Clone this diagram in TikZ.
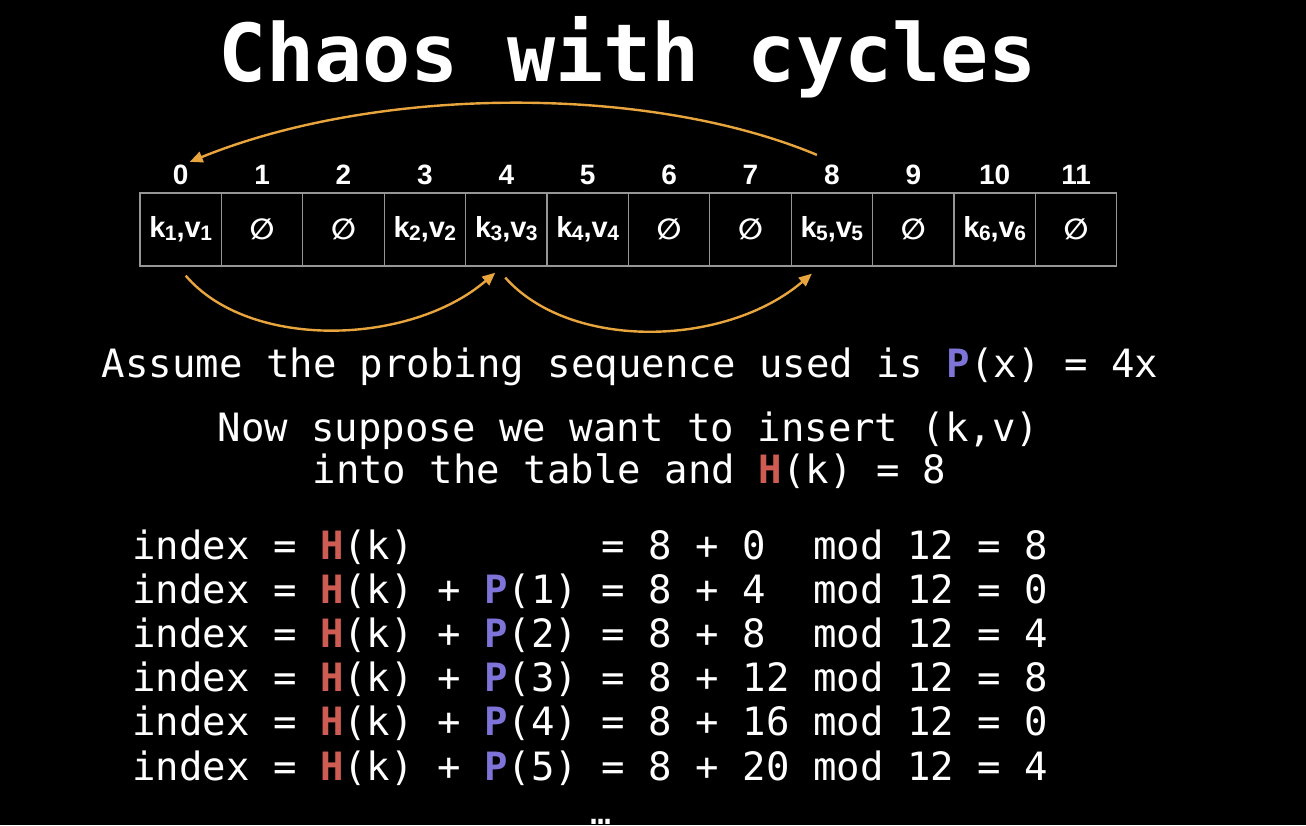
\documentclass[tikz,border=0pt]{standalone}
\usepackage{fontspec}
\setmainfont{DejaVu Sans Mono}
\newfontfamily\cellfont{Liberation Sans}
\newfontfamily\symfont{DejaVu Sans}
\usetikzlibrary{arrows.meta,calc}

\definecolor{hred}{RGB}{206,92,82}
\definecolor{ppurple}{RGB}{126,116,216}
\definecolor{arrowc}{RGB}{232,165,62}
\definecolor{gridc}{RGB}{150,150,150}

% subscripted key/value pair and the empty-slot symbol
\newcommand\kvpair[2]{k\kern-0.02em\raisebox{-0.08em}{\fontsize{21}{21}\selectfont #1},v\kern-0.02em\raisebox{-0.08em}{\fontsize{21}{21}\selectfont #2}}
\newcommand\emptyslot{{\symfont\fontsize{29}{29}\selectfont ∅}}
% hash and probe function names
\newcommand\Hk{\textcolor{hred}{\bfseries H}(k)}
\newcommand\Pn[1]{\textcolor{ppurple}{\bfseries P}(#1)}

\tikzset{
  cell/.style={draw=gridc, line width=1.3pt, minimum width=81.4pt, minimum height=73pt,
    inner sep=0pt, text=white, font=\cellfont\bfseries\fontsize{29}{29}\selectfont},
  idx/.style={inner sep=2pt, text=white, font=\cellfont\bfseries\fontsize{28}{28}\selectfont},
  arr/.style={draw=arrowc, line width=2.4pt, -{Triangle[length=13pt,width=11pt]}},
  body/.style={text=white, inner sep=0pt, font=\fontsize{39}{39}\selectfont},
}

\begin{document}
\begin{tikzpicture}[x=1pt,y=-1pt]
\fill[black] (0,0) rectangle (1306,825);
\useasboundingbox (0,0) rectangle (1306,825);

% title
\node[text=white, inner sep=0pt, anchor=base, font=\bfseries\fontsize{80}{80}\selectfont]
  (title) at (627.5,81) {Chaos with cycles};

% table cells
\node[cell] (c0)  at (180.7,229.5) {\kvpair{1}{1}};
\node[cell] (c1)  at (262.1,229.5) {\emptyslot};
\node[cell] (c2)  at (343.5,229.5) {\emptyslot};
\node[cell] (c3)  at (424.9,229.5) {\kvpair{2}{2}};
\node[cell] (c4)  at (506.3,229.5) {\kvpair{3}{3}};
\node[cell] (c5)  at (587.7,229.5) {\kvpair{4}{4}};
\node[cell] (c6)  at (669.1,229.5) {\emptyslot};
\node[cell] (c7)  at (750.5,229.5) {\emptyslot};
\node[cell] (c8)  at (831.9,229.5) {\kvpair{5}{5}};
\node[cell] (c9)  at (913.3,229.5) {\emptyslot};
\node[cell] (c10) at (994.7,229.5) {\kvpair{6}{6}};
\node[cell] (c11) at (1076.1,229.5) {\emptyslot};

% index labels
\foreach \i in {0,...,11} {
  \node[idx] (i\i) at ($(c\i.center)+(0,-54.5)$) {\i};
}

% probe jumps
\draw[arr] ([xshift=-15pt,yshift=8pt]i8.north) .. controls +(-167,-70) and +(190,-77) .. ([xshift=9pt,yshift=1pt]i0.north);
\draw[arr] ([xshift=5pt,yshift=-9pt]c0.south) .. controls +(64,75) and +(-85,73) .. ([xshift=-11pt,yshift=-6pt]c4.south);
\draw[arr] ([xshift=-1pt,yshift=-11pt]c4.south) .. controls +(65,73) and +(-87,74) .. ([xshift=-20pt,yshift=-7pt]c8.south);

% explanation
\node[body, anchor=base] (assume) at (630,377) {Assume the probing sequence used is \Pn{x} = 4x};
\node[body, anchor=base] (now1) at (628.5,441) {Now suppose we want to insert (k,v)};
\node[body, anchor=base] (now2) at (629.5,483) {into the table and \Hk{} = 8};

% probe indices
\node[body, anchor=base west] (l0) at (132,559.0) {index = \Hk\hphantom{~+~\Pn{1}} = 8 + 0\hphantom{0} mod 12 = 8};
\node[body, anchor=base west] (l1) at (132,603.2) {index = \Hk{} + \Pn{1} = 8 + 4\hphantom{0} mod 12 = 0};
\node[body, anchor=base west] (l2) at (132,647.4) {index = \Hk{} + \Pn{2} = 8 + 8\hphantom{0} mod 12 = 4};
\node[body, anchor=base west] (l3) at (132,691.6) {index = \Hk{} + \Pn{3} = 8 + 12 mod 12 = 8};
\node[body, anchor=base west] (l4) at (132,735.8) {index = \Hk{} + \Pn{4} = 8 + 16 mod 12 = 0};
\node[body, anchor=base west] (l5) at (132,780.0) {index = \Hk{} + \Pn{5} = 8 + 20 mod 12 = 4};
\node[text=white, inner sep=0pt, anchor=base, font=\fontsize{35}{35}\selectfont] (more) at (601,824) {…};
\end{tikzpicture}
\end{document}
